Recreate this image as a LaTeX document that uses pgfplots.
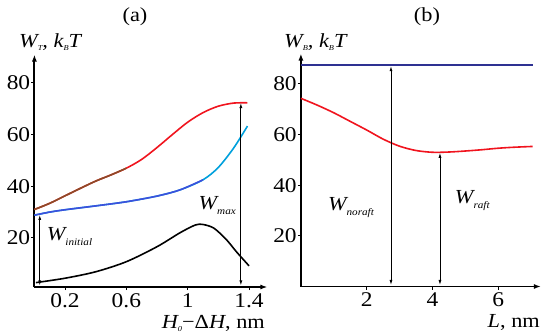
\documentclass[border=0pt]{standalone}
\usepackage{pgfplots}
\pgfplotsset{compat=1.18}
\usetikzlibrary{arrows.meta}
\usepackage{fontspec}
\setmainfont{Liberation Serif}[FakeStretch=1.12]
\newcommand\tk{\fontsize{21}{21}\selectfont}
\newcommand\bigW{\fontsize{20}{20}\selectfont}
\newcommand\lab{\fontsize{20}{20}\selectfont}
\newcommand\sub[2]{\raisebox{-#2}{\fontsize{10}{10}\selectfont #1}}
\newcommand\ssub[1]{\raisebox{-3bp}{\fontsize{7.5}{7.5}\selectfont #1}}
\definecolor{myred}{RGB}{240,20,30}
\definecolor{mybrown}{RGB}{140,75,40}
\definecolor{myblue}{RGB}{60,80,220}
\definecolor{mycyan}{RGB}{0,160,220}
\definecolor{navy}{RGB}{46,49,146}
\tikzset{dbl/.style={line width=0.8bp, {Latex[length=5bp,width=3bp]}-{Latex[length=5bp,width=3bp]}}}
\pgfplotsset{
  myaxis/.style={
    scale only axis, anchor=south west,
    axis lines=left,
    every outer x axis line/.append style={line width=1.8bp,-{Latex[length=7bp,width=5bp]}},
    every outer y axis line/.append style={line width=1.8bp,-{Latex[length=7bp,width=5bp]}},
    every inner x axis line/.append style={line width=1.8bp,-{Latex[length=7bp,width=5bp]}},
    every inner y axis line/.append style={line width=1.8bp,-{Latex[length=7bp,width=5bp]}},
    tick align=outside, major tick length=3bp,
    tick style={line width=1bp, black},
    ticklabel style={font=\tk},
    yticklabel style={inner sep=1bp},
    xticklabel style={inner sep=1bp, yshift=-2bp},
    /pgf/number format/assume math mode=true,
    clip=false,
  },
}
\begin{document}
\begin{tikzpicture}
\useasboundingbox (0bp,0bp) rectangle (550bp,336bp);
\begin{axis}[myaxis, at={(34.4bp,49bp)}, width=233bp, height=232.5bp,
  xmin=0, xmax=1.52, ymin=1, ymax=91,
  xtick={0.2,0.6,1,1.4}, xticklabels={0.2,0.6,1,1.4},
  ytick={20,40,60,80}]
\addplot[smooth, line width=1.6bp, myred] coordinates {(0,31) (0.1,33.4) (0.2,36.3) (0.3,39.2) (0.4,42) (0.5,44.4) (0.6,47) (0.7,50.4) (0.8,55) (0.9,60) (1.0,64.8) (1.1,68.5) (1.2,71) (1.3,72.2) (1.39,72.3)};
\addplot[smooth, line width=1.6bp, mybrown] coordinates {(0,31) (0.1,33.4) (0.2,36.3) (0.3,39.2) (0.4,42) (0.5,44.4) (0.6,47)};
\addplot[smooth, line width=1.6bp, mycyan] coordinates {(0,28.8) (0.1,30) (0.2,30.9) (0.4,32.4) (0.6,34) (0.8,36.2) (0.95,38.6) (1.1,42.5) (1.2,47.3) (1.3,54.8) (1.39,63.3)};
\addplot[smooth, line width=1.6bp, myblue] coordinates {(0,28.8) (0.1,30) (0.2,30.9) (0.4,32.4) (0.6,34) (0.8,36.2) (0.95,38.6) (1.1,42.5)};
\addplot[smooth, line width=1.6bp, black] coordinates {(0.01,2.7) (0.2,4.4) (0.4,6.9) (0.6,10.8) (0.8,16.6) (0.95,22) (1.05,25) (1.1,25.2) (1.17,23.8) (1.25,19.5) (1.32,14.5) (1.4,9.2)};
\draw[dbl] (axis cs:0.035,1.6) -- (axis cs:0.035,28.9);
\draw[dbl] (axis cs:1.347,1.6) -- (axis cs:1.347,72.2);
\node[anchor=west, inner sep=0pt] at (axis cs:0.08,20.4) {\bigW\itshape W\sub{initial}{5bp}};
\node[anchor=west, inner sep=0pt] at (axis cs:1.07,32.7) {\bigW\itshape W\sub{max}{5bp}};
\end{axis}
\begin{axis}[myaxis, at={(300.9bp,49.5bp)}, width=240bp, height=233bp,
  xmin=0, xmax=7.3, ymin=0, ymax=92,
  xtick={2,4,6}, ytick={20,40,60,80}]
\addplot[line width=1.6bp, navy] coordinates {(0,87.4) (7.05,87.4)};
\addplot[smooth, line width=1.6bp, myred] coordinates {(0,74.3) (0.5,71.6) (1,68.6) (1.5,65.2) (2,61.8) (2.5,58.2) (3,55.4) (3.5,53.7) (4,53) (4.5,53.1) (5,53.5) (5.5,54) (6,54.6) (6.5,55) (7.05,55.3)};
\draw[dbl] (axis cs:2.74,0.6) -- (axis cs:2.74,87);
\draw[dbl] (axis cs:4.23,0.6) -- (axis cs:4.23,52.8);
\node[anchor=west, inner sep=0pt] at (axis cs:0.82,31) {\bigW\itshape W\sub{noraft}{5bp}};
\node[anchor=west, inner sep=0pt] at (axis cs:4.68,33.9) {\bigW\itshape W\sub{raft}{5bp}};
\end{axis}
\node[font=\lab] at (135bp,319bp) {(a)};
\node[font=\lab] at (427bp,319bp) {(b)};
\node[font=\lab, anchor=west, inner sep=0pt] at (19bp,294bp) {\itshape W\ssub{T}, k\ssub{B}T};
\node[font=\lab, anchor=west, inner sep=0pt] at (284bp,294bp) {\itshape W\ssub{B}, k\ssub{B}T};
\node[font=\lab, anchor=east, inner sep=0pt] at (265bp,13bp) {\itshape H\ssub{0}\upshape−Δ\itshape H\upshape, nm};
\node[font=\lab, anchor=east, inner sep=0pt] at (540bp,13bp) {\itshape L\upshape, nm};
\end{tikzpicture}
\end{document}
